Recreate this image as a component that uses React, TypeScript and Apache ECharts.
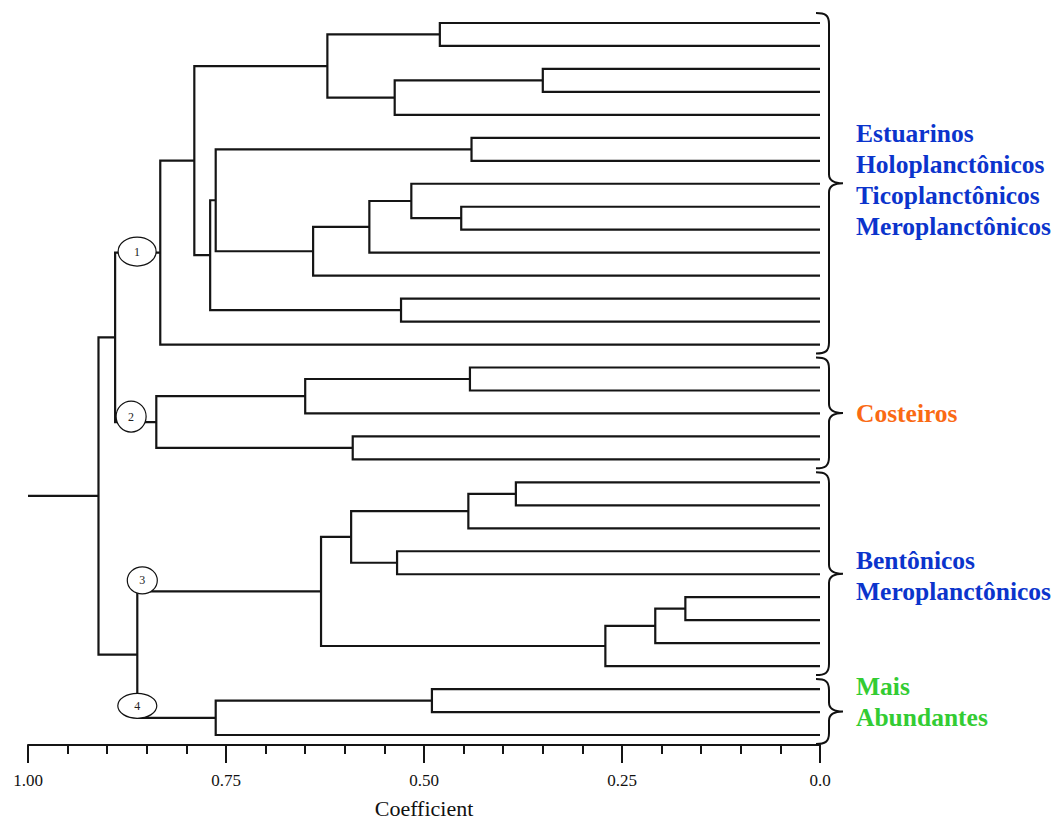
import React, { useEffect, useRef } from "react";
import * as echarts from "echarts";

// ---- data ----
const leafCount = 32; // leaves listed top to bottom
// merges: [left child, right child, coefficient]; ids < 32 are leaves, id 32+k is merge k
const merges: [number, number, number][] = [
  [0, 1, 0.48], // 32
  [2, 3, 0.35], // 33
  [33, 4, 0.537], // 34
  [32, 34, 0.622], // 35
  [5, 6, 0.44], // 36
  [8, 9, 0.453], // 37
  [7, 37, 0.516], // 38
  [38, 10, 0.569], // 39
  [39, 11, 0.64], // 40
  [36, 40, 0.763], // 41
  [12, 13, 0.529], // 42
  [41, 42, 0.77], // 43
  [35, 43, 0.79], // 44
  [44, 14, 0.833], // 45  group 1
  [15, 16, 0.442], // 46
  [46, 17, 0.65], // 47
  [18, 19, 0.59], // 48
  [47, 48, 0.838], // 49  group 2
  [45, 49, 0.89], // 50
  [20, 21, 0.384], // 51
  [51, 22, 0.444], // 52
  [23, 24, 0.534], // 53
  [52, 53, 0.592], // 54
  [25, 26, 0.17], // 55
  [55, 27, 0.208], // 56
  [56, 28, 0.271], // 57
  [54, 57, 0.63], // 58  group 3
  [29, 30, 0.49], // 59
  [59, 31, 0.763], // 60  group 4
  [58, 60, 0.862], // 61
  [50, 61, 0.911], // 62  root
];
const groupNodes = [45, 49, 58, 60];
const groupMarkers = ["1", "2", "3", "4"];
const groupRanges: [number, number][] = [
  [0, 14],
  [15, 19],
  [20, 28],
  [29, 31],
];
const groupLabels = [
  "Estuarinos\nHoloplanctônicos\nTicoplanctônicos\nMeroplanctônicos",
  "Costeiros",
  "Bentônicos\nMeroplanctônicos",
  "Mais\nAbundantes",
];
const tickValues = [1, 0.75, 0.5, 0.25, 0];
const tickLabels = ["1.00", "0.75", "0.50", "0.25", "0.0"];
const axisName = "Coefficient";

// ---- styles / layout ----
const groupColors = ["#0b34cc", "#fa6a14", "#0b34cc", "#33cc33"];
const labelDy = [-3, 1, 2, -10];
const markerLayout = [
  { dx: 22, dy: -1, rx: 19, ry: 14.5 },
  { dx: 16, dy: -5.5, rx: 15, ry: 15.5 },
  { dx: 5, dy: -11, rx: 15, ry: 13.5 },
  { dx: 0, dy: -12, rx: 19.5, ry: 12.5 },
];
const LINE = "#151515";

// ---- tree layout from data ----
const nodeX: number[] = [];
const nodeY: number[] = [];
const parentOf: number[] = [];
for (let i = 0; i < leafCount; i++) {
  nodeX[i] = 0;
  nodeY[i] = i;
}
merges.forEach(([a, b, h], k) => {
  const id = leafCount + k;
  nodeX[id] = h;
  nodeY[id] = (nodeY[a] + nodeY[b]) / 2;
  parentOf[a] = id;
  parentOf[b] = id;
});
const rootId = leafCount + merges.length - 1;
const segments: number[][][] = merges.map(([a, b, h]) => [
  [nodeX[a], nodeY[a]],
  [h, nodeY[a]],
  [h, nodeY[b]],
  [nodeX[b], nodeY[b]],
]);
segments.push([
  [nodeX[rootId], nodeY[rootId]],
  [1, nodeY[rootId]],
]);

const serif = "'Liberation Serif', 'Times New Roman', serif";

function buildOption(): any {
  return {
    animation: false,
    backgroundColor: "#fff",
    grid: { left: 28, right: 237, top: 11.5, bottom: 75, containLabel: false, outerBoundsMode: "none" },
    xAxis: {
      type: "value",
      min: 0,
      max: 1,
      interval: 0.25,
      inverse: true,
      name: axisName,
      nameLocation: "middle",
      nameGap: 52,
      nameTextStyle: { fontFamily: serif, fontSize: 22, color: "#111" },
      axisLine: { onZero: false, lineStyle: { color: LINE, width: 2 } },
      axisTick: { length: 18, lineStyle: { color: LINE, width: 2 } },
      minorTick: { show: true, splitNumber: 5, length: 9, lineStyle: { color: LINE, width: 2 } },
      splitLine: { show: false },
      minorSplitLine: { show: false },
      axisLabel: {
        margin: 27,
        fontFamily: serif,
        fontSize: 17,
        color: "#111",
        formatter: (v: number) => {
          const i = tickValues.findIndex((t) => Math.abs(t - v) < 1e-9);
          return i >= 0 ? tickLabels[i] : "";
        },
      },
    },
    yAxis: {
      type: "value",
      min: -0.5,
      max: 31.435,
      inverse: true,
      show: false,
    },
    series: [
      {
        type: "custom",
        name: "dendrogram",
        coordinateSystem: "cartesian2d",
        clip: false,
        z: 2,
        data: segments.map((s) => [s[0][0], s[0][1]]),
        encode: { x: 0, y: 1 },
        renderItem: (params: any, api: any) => {
          const pts = segments[params.dataIndex].map((p) => api.coord(p));
          return {
            type: "polyline",
            shape: { points: pts },
            style: { stroke: LINE, lineWidth: 2.2, fill: "none" },
          };
        },
      },
      {
        type: "custom",
        name: "markers",
        coordinateSystem: "cartesian2d",
        clip: false,
        z: 3,
        data: groupNodes.map((n) => [nodeX[n], nodeY[n]]),
        encode: { x: 0, y: 1 },
        renderItem: (params: any, api: any) => {
          const i = params.dataIndex;
          const n = groupNodes[i];
          const p = parentOf[n];
          const c = api.coord([nodeX[p], nodeY[n]]);
          const L = markerLayout[i];
          const cx = c[0] + L.dx;
          const cy = c[1] + L.dy;
          return {
            type: "group",
            children: [
              {
                type: "ellipse",
                shape: { cx, cy, rx: L.rx, ry: L.ry },
                style: { fill: "#fff", stroke: "#111", lineWidth: 1.2 },
              },
              {
                type: "text",
                style: {
                  text: groupMarkers[i],
                  x: cx,
                  y: cy,
                  align: "center",
                  verticalAlign: "middle",
                  fontFamily: serif,
                  fontSize: 12,
                  fill: "#222",
                },
              },
            ],
          };
        },
      },
      {
        type: "custom",
        name: "groups",
        coordinateSystem: "cartesian2d",
        clip: false,
        z: 3,
        data: groupRanges.map((r) => [0, (r[0] + r[1]) / 2]),
        encode: { x: 0, y: 1 },
        renderItem: (params: any, api: any) => {
          const i = params.dataIndex;
          const [r0, r1] = groupRanges[i];
          const unit = api.size([0, 1])[1];
          const x0 = api.coord([0, 0])[0];
          const top = api.coord([0, r0])[1] - unit * 0.5 + 1.5;
          const bot = api.coord([0, r1])[1] + unit * 0.5 - 2.5;
          const mid = (top + bot) / 2;
          const sx = x0 + 9;
          const tx = x0 + 23;
          const d =
            `M ${x0 - 4} ${top} C ${x0 + 5} ${top} ${sx} ${top + 2} ${sx} ${top + 11} ` +
            `L ${sx} ${mid - 9} C ${sx} ${mid - 3} ${sx + 4} ${mid} ${tx} ${mid} ` +
            `C ${sx + 4} ${mid} ${sx} ${mid + 3} ${sx} ${mid + 9} ` +
            `L ${sx} ${bot - 11} C ${sx} ${bot - 2} ${x0 + 5} ${bot} ${x0 - 4} ${bot}`;
          return {
            type: "group",
            children: [
              {
                type: "path",
                shape: { pathData: d },
                style: { stroke: "#111", lineWidth: 2, fill: "none" },
              },
              {
                type: "text",
                style: {
                  text: groupLabels[i],
                  x: x0 + 36,
                  y: mid + labelDy[i],
                  align: "left",
                  verticalAlign: "middle",
                  fontFamily: serif,
                  fontWeight: "bold",
                  fontSize: 25.5,
                  lineHeight: 31,
                  fill: groupColors[i],
                },
              },
            ],
          };
        },
      },
    ],
  };
}

export default function App() {
  const ref = useRef<HTMLDivElement>(null);
  useEffect(() => {
    if (!ref.current) return;
    const chart = echarts.init(ref.current, null, { renderer: "svg" });
    chart.setOption(buildOption());
    return () => chart.dispose();
  }, []);
  return (
    <div
      ref={ref}
      style={{ position: "fixed", left: 0, top: 0, width: 1057, height: 820, background: "#fff" }}
    />
  );
}
